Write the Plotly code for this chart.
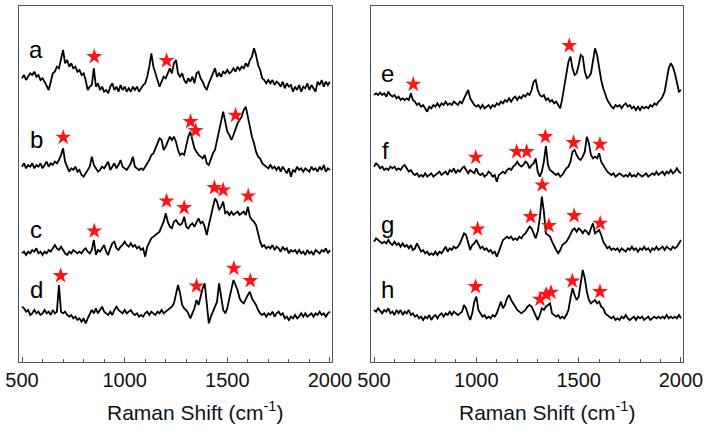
import plotly.graph_objects as go

# Raman shift grid (cm^-1)
WN = list(range(500, 2001, 10))

# Intensities (arbitrary units, baseline-relative)
A = [35,45,30,40,50,45,55,40,45,30,
     35,25,10,0,25,50,55,70,65,90,
     120,80,90,70,80,65,70,55,60,45,
     50,30,0,10,15,65,10,20,0,10,
     -5,0,-10,10,20,0,10,-5,15,0,
     10,-5,5,-5,10,0,10,-5,5,15,
     20,40,70,110,70,50,35,10,25,40,
     35,50,65,50,80,90,50,40,50,30,
     20,35,25,40,20,50,55,35,25,10,
     0,20,35,50,65,40,50,40,55,50,
     60,50,55,65,55,70,60,70,65,80,
     70,90,100,125,105,75,60,35,30,20,
     30,20,30,15,25,20,10,25,5,20,
     10,15,-5,10,0,15,-5,10,5,20,
     0,15,5,-5,25,15,30,10,25,15,
     25]
B = [20,30,15,25,20,30,15,25,20,30,
     15,25,35,20,30,25,35,30,40,55,
     75,35,20,5,15,10,20,5,10,-5,
     -10,0,10,20,50,25,15,5,10,20,
     15,25,35,10,20,30,15,25,40,20,
     15,10,20,30,50,20,15,10,15,10,
     20,30,40,55,60,75,90,105,100,70,
     80,95,110,100,110,95,70,55,60,55,
     80,110,125,95,75,65,55,50,45,55,
     30,25,45,60,70,100,135,165,185,155,
     125,115,100,115,135,150,160,170,190,200,
     170,135,110,90,65,50,45,30,25,20,
     15,25,15,20,10,20,5,20,10,0,
     15,-10,10,5,20,10,15,5,15,10,
     5,20,10,15,5,20,10,25,5,15,
     10]
C = [10,15,5,15,10,20,15,25,10,15,
     5,15,10,20,15,25,35,25,20,30,
     20,10,5,15,10,20,15,10,15,10,
     20,25,15,10,20,50,5,20,15,25,
     35,15,5,25,40,45,25,20,30,35,
     45,35,30,40,30,35,25,30,20,25,
     0,30,45,55,60,65,70,75,90,105,
     130,105,90,85,105,110,100,95,100,120,
     90,85,95,100,90,105,115,100,105,90,
     65,95,125,155,175,165,140,150,165,130,
     135,125,135,125,130,135,125,130,135,125,
     150,120,110,105,95,70,45,30,35,25,
     30,25,35,20,30,25,15,30,20,25,
     10,20,15,20,10,20,10,15,5,20,
     10,15,5,20,15,10,20,15,25,10,
     20]
D = [35,30,20,25,10,15,25,15,20,10,
     15,25,15,20,10,25,15,20,100,20,
     15,20,10,5,10,0,5,-5,0,-10,
     0,-15,0,15,25,15,30,15,25,35,
     20,15,10,20,10,25,35,25,20,15,
     25,15,20,25,15,10,15,5,10,5,
     15,20,10,20,15,10,20,15,25,15,
     20,25,30,35,45,75,100,75,40,30,
     25,15,0,15,30,55,40,65,90,105,
     35,-15,5,20,30,50,105,60,25,15,
     30,60,85,115,100,85,60,50,45,60,
     70,80,60,50,40,25,15,10,15,5,
     15,10,20,5,15,20,10,15,0,5,
     -5,5,0,10,0,5,15,5,15,5,
     10,15,5,15,10,20,10,15,5,15,
     20]
E = [45,50,45,52,45,50,40,55,45,40,
     45,35,40,30,35,30,35,30,50,30,
     25,15,20,10,15,5,-5,10,5,15,
     10,20,10,20,15,25,15,20,15,25,
     20,15,25,20,35,50,60,35,25,15,
     10,15,5,15,5,10,15,5,15,10,
     20,15,25,20,30,25,35,25,35,40,
     30,40,35,45,40,50,45,60,85,90,
     60,45,40,45,30,35,25,30,20,25,
     15,5,35,70,110,145,160,125,105,110,
     135,165,160,115,95,100,110,150,185,165,
     120,90,65,45,30,20,10,5,15,10,
     15,5,15,20,10,15,5,10,0,10,
     0,10,5,10,5,15,10,20,15,25,
     30,40,55,90,125,140,130,110,85,55,
     60]
F = [40,50,45,35,40,30,35,30,40,35,
     40,30,35,30,40,45,35,25,30,20,
     15,20,10,15,10,20,10,15,20,10,
     15,20,25,15,20,25,15,30,25,35,
     20,30,25,35,40,30,20,30,25,20,
     35,20,15,20,10,15,25,20,10,15,
     -5,15,20,25,20,30,35,30,40,45,
     55,45,40,45,55,50,35,45,50,65,
     25,10,25,55,102,45,30,25,20,15,
     20,10,15,25,35,40,55,85,90,75,
     65,60,70,85,130,110,75,65,70,65,
     80,55,45,35,25,20,15,20,10,15,
     20,15,10,15,10,20,10,15,10,20,
     15,10,15,20,10,15,20,15,25,15,
     20,25,15,25,20,30,20,25,35,25,
     20]
G = [45,55,50,45,40,45,40,50,40,35,
     45,35,40,30,40,30,35,25,35,20,
     25,40,25,15,20,10,15,5,10,5,
     15,5,15,10,20,30,15,25,20,30,
     25,30,40,55,70,65,40,20,35,40,
     50,35,25,30,20,25,15,20,10,15,
     0,15,35,50,55,60,55,60,50,55,
     50,60,55,65,70,80,90,85,70,55,
     75,115,180,135,70,65,60,45,30,20,
     10,20,35,40,45,55,70,80,85,75,
     85,80,70,80,75,65,85,100,70,75,
     80,65,45,35,25,30,20,25,20,25,
     15,25,20,15,25,20,30,20,25,15,
     25,20,30,20,25,15,25,20,30,20,
     25,30,20,30,25,20,30,25,30,40,
     50]
H = [35,30,40,32,25,35,30,40,25,30,
     20,35,25,35,20,30,25,35,20,25,
     15,20,10,15,5,15,10,20,5,15,
     20,10,20,25,15,25,20,30,20,30,
     25,20,25,30,50,40,20,5,25,60,
     75,35,25,15,20,10,15,10,20,15,
     25,40,60,40,50,70,80,65,55,45,
     35,30,25,30,35,45,50,45,30,15,
     5,20,40,35,45,50,55,25,20,15,
     20,10,15,10,20,35,70,100,80,65,
     75,110,155,130,90,65,55,60,65,55,
     60,45,40,25,20,15,10,15,5,10,
     5,15,10,20,10,5,10,15,5,15,
     10,15,5,10,15,5,10,15,10,15,
     10,15,10,20,10,15,10,15,10,20,
     10]

# Star markers: band positions (cm^-1) and heights (same units)
A_STAR_WN = [852, 1204]
A_STAR_I = [100, 88]
B_STAR_WN = [701, 1321, 1346, 1540]
B_STAR_I = [108, 155, 128, 174]
C_STAR_WN = [852, 1204, 1290, 1437, 1480, 1602]
C_STAR_I = [77, 167, 147, 207, 200, 182]
D_STAR_WN = [688, 1350, 1532, 1612]
D_STAR_I = [128, 97, 150, 113]
E_STAR_WN = [692, 1454]
E_STAR_I = [77, 193]
F_STAR_WN = [997, 1197, 1246, 1337, 1475, 1604]
F_STAR_I = [68, 85, 85, 130, 112, 107]
G_STAR_WN = [1006, 1265, 1322, 1355, 1478, 1605]
G_STAR_I = [83, 120, 215, 93, 123, 100]
H_STAR_WN = [996, 1311, 1341, 1365, 1469, 1604]
H_STAR_I = [105, 67, 82, 88, 122, 90]

LABELS = ["a", "b", "c", "d", "e", "f", "g", "h"]
TICKS = [500, 1000, 1500, 2000]
XTITLE = "Raman Shift (cm<sup>-1</sup>)"

W, Hh = 711, 435
FONT = "Arial, Liberation Sans, sans-serif"

# (values, star wn, star heights, offset, axis, label position px)
spectra = [
    (A, A_STAR_WN, A_STAR_I, 816, 1, (36, 50)),
    (B, B_STAR_WN, B_STAR_I, 566, 1, (36, 139)),
    (C, C_STAR_WN, C_STAR_I, 316, 1, (36, 229)),
    (D, D_STAR_WN, D_STAR_I, 131, 1, (36, 289)),
    (E, E_STAR_WN, E_STAR_I, 756, 2, (388, 73)),
    (F, F_STAR_WN, F_STAR_I, 546, 2, (386, 150)),
    (G, G_STAR_WN, G_STAR_I, 316, 2, (388, 224)),
    (H, H_STAR_WN, H_STAR_I, 121, 2, (388, 289)),
]

fig = go.Figure()
annotations = []
for lab, (vals, swn, si, off, ax, (lx, ly)) in zip(LABELS, spectra):
    xa = "x" if ax == 1 else "x2"
    ya = "y" if ax == 1 else "y2"
    fig.add_trace(go.Scatter(x=WN, y=[v + off for v in vals], mode="lines",
                             line=dict(color="black", width=1.8),
                             xaxis=xa, yaxis=ya, showlegend=False,
                             hoverinfo="skip"))
    fig.add_trace(go.Scatter(x=swn, y=[v + off for v in si], mode="markers",
                             marker=dict(symbol="star", size=12, color="#ff1414",
                                         line=dict(width=0)),
                             xaxis=xa, yaxis=ya, showlegend=False,
                             hoverinfo="skip"))
    annotations.append(dict(text=lab, x=lx / W, y=1 - ly / Hh, xref="paper",
                            yref="paper", showarrow=False, xanchor="center",
                            yanchor="middle",
                            font=dict(family=FONT, size=24, color="black")))

for cx in (195, 547):
    annotations.append(dict(text=XTITLE, x=cx / W, y=1 - 411 / Hh, xref="paper",
                            yref="paper", showarrow=False, xanchor="center",
                            yanchor="middle",
                            font=dict(family=FONT, size=21, color="#111")))

ydom = [1 - 362 / Hh, 1 - 6 / Hh]
frame = "#555555"
xcommon = dict(tickvals=TICKS, ticktext=[str(t) for t in TICKS],
               ticks="inside", ticklen=5, tickcolor=frame, tickwidth=1,
               minor=dict(dtick=100, ticks="inside", ticklen=3,
                          tickcolor=frame, tickwidth=1, showgrid=False),
               showline=True, linecolor=frame, linewidth=1, mirror=True,
               showgrid=False, zeroline=False, automargin=False,
               tickfont=dict(family=FONT, size=20, color="#111"))
ycommon = dict(range=[0, 1068], showline=True, linecolor=frame, linewidth=1,
               mirror=True, showgrid=False, zeroline=False, automargin=False,
               showticklabels=False, ticks="", domain=ydom)

fig.update_layout(
    width=W, height=Hh,
    margin=dict(l=0, r=0, t=0, b=0, autoexpand=False),
    paper_bgcolor="white", plot_bgcolor="white",
    xaxis=dict(domain=[19 / W, 332 / W], range=[485.4, 2010], anchor="y",
               **xcommon),
    xaxis2=dict(domain=[371 / W, 683 / W], range=[485.3, 2009.8], anchor="y2",
                **xcommon),
    yaxis=dict(anchor="x", **ycommon),
    yaxis2=dict(anchor="x2", **ycommon),
    annotations=annotations,
)

fig.write_html("out.html",
               config={"displayModeBar": False},
               post_script="document.body.style.margin='0';"
                           "document.body.style.overflow='hidden';")
